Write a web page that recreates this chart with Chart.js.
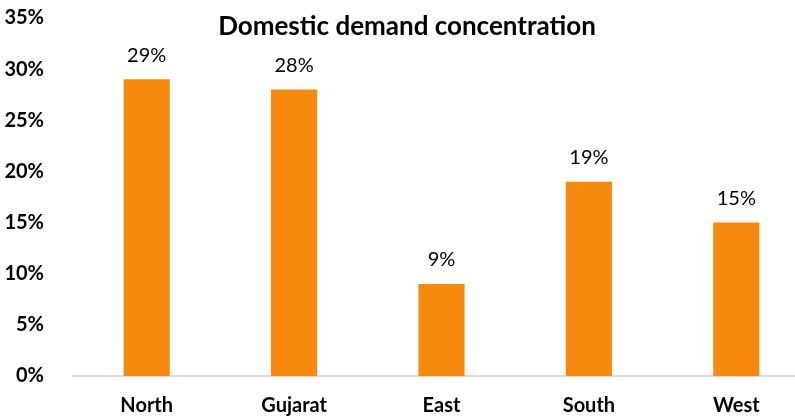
<!DOCTYPE html>
<html>
<head>
<meta charset="utf-8">
<script src="https://cdn.jsdelivr.net/npm/chart.js@4"></script>
<style>
  html, body { margin: 0; padding: 0; background: #fff; overflow: hidden; }
  #chart { display: block; }
</style>
</head>
<body>
<canvas id="chart" width="810" height="419"></canvas>
<script>
const regions = ['North', 'Gujarat', 'East', 'South', 'West'];
const demandShare = [29, 28, 9, 19, 15];
const chartTitle = 'Domestic demand concentration';

const FONT = 'Lato, "Open Sans", sans-serif';

// draws the title over the plot and the value labels on top of the bars
const overlayText = {
  id: 'overlayText',
  afterDatasetsDraw(chart) {
    const ctx = chart.ctx;
    ctx.save();
    ctx.fillStyle = '#000';
    ctx.textAlign = 'center';
    ctx.textBaseline = 'middle';
    ctx.font = 'bold 26px ' + FONT;
    ctx.fillText(chartTitle, 407, 27);

    ctx.font = '20px ' + FONT;
    const meta = chart.getDatasetMeta(0);
    meta.data.forEach((bar, i) => {
      ctx.fillText(demandShare[i] + '%', bar.x, bar.y - 24);
    });
    ctx.restore();
  }
};

new Chart(document.getElementById('chart'), {
  type: 'bar',
  data: {
    labels: regions,
    datasets: [{
      label: 'Share',
      data: demandShare,
      backgroundColor: '#F7890E',
      borderWidth: 0,
      categoryPercentage: 1,
      barPercentage: 0.313
    }]
  },
  options: {
    responsive: false,
    animation: false,
    devicePixelRatio: 1,
    layout: { padding: { top: 18, left: 0, right: 0, bottom: 0 } },
    plugins: {
      legend: { display: false },
      title: { display: false },
      tooltip: { enabled: false }
    },
    scales: {
      y: {
        min: 0,
        max: 35,
        grid: { display: false },
        border: { display: false },
        afterFit: (axis) => {
          axis.width = 73;
          axis.paddingTop = 0;
          axis.paddingBottom = 0;
        },
        ticks: {
          stepSize: 5,
          padding: 21,
          color: '#000',
          font: { family: FONT, size: 20, weight: 'bold' },
          callback: (v) => v + '%'
        }
      },
      x: {
        grid: { display: false },
        border: { display: true, color: '#d9d9d9', width: 2 },
        afterFit: (axis) => { axis.height = 43; },
        ticks: {
          padding: 10,
          color: '#000',
          font: { family: FONT, size: 20, weight: 'bold' }
        }
      }
    }
  },
  plugins: [overlayText]
});
</script>
</body>
</html>
